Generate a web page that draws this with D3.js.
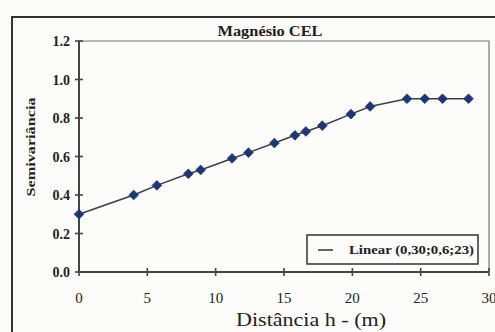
<!DOCTYPE html>
<html>
<head>
<meta charset="utf-8">
<script src="https://cdn.jsdelivr.net/npm/d3@7"></script>
<style>
  html, body { margin: 0; padding: 0; background: #fcfcfa; }
  svg { display: block; }
  text { font-family: "Liberation Serif", "DejaVu Serif", serif; fill: #222; }
</style>
</head>
<body>
<svg id="chart" width="495" height="332"></svg>
<script>
// Experimental semivariogram of magnesium (CEL)
const distance = [0, 4.0, 5.7, 8.0, 8.9, 11.2, 12.4, 14.3, 15.8, 16.6, 17.8, 19.9, 21.3, 24.0, 25.3, 26.6, 28.5];
const semivariance = [0.30, 0.40, 0.45, 0.51, 0.53, 0.59, 0.62, 0.67, 0.71, 0.73, 0.76, 0.82, 0.86, 0.90, 0.90, 0.90, 0.90];
const xTicks = [0, 5, 10, 15, 20, 25, 30];
const yTicks = [0.0, 0.2, 0.4, 0.6, 0.8, 1.0, 1.2];
const title = "Magnésio CEL";
const xTitle = "Distância h - (m)";
const yTitle = "Semivariância";
const legendLabel = "Linear (0,30;0,6;23)";

const svg = d3.select("#chart");
const axisColor = "#444";

const x = d3.scaleLinear().domain([0, 30]).range([79, 489]);
const y = d3.scaleLinear().domain([0, 1.2]).range([272, 41]);

// outer frame
svg.append("path")
  .attr("d", "M12,340 V17 H500")
  .attr("fill", "none").attr("stroke", "#333").attr("stroke-width", 2);

// plot box (top and right edges)
svg.append("path")
  .attr("d", `M${x(0)},${y(1.2)} H${x(30)} V${y(0)}`)
  .attr("fill", "none").attr("stroke", "#777").attr("stroke-width", 1.2);

// x axis
const xAxis = svg.append("g").attr("transform", `translate(0,${y(0)})`);
xAxis.append("line").attr("x1", x(0)).attr("x2", x(30))
  .attr("stroke", axisColor).attr("stroke-width", 2);
xAxis.selectAll("line.tick").data(xTicks).join("line").attr("class", "tick")
  .attr("x1", d => x(d)).attr("x2", d => x(d)).attr("y1", -4).attr("y2", 4)
  .attr("stroke", axisColor).attr("stroke-width", 1.6);
xAxis.selectAll("text").data(xTicks).join("text")
  .attr("x", d => x(d)).attr("y", 31)
  .attr("text-anchor", "middle").attr("font-size", 15)
  .text(d => d);

// y axis
const yAxis = svg.append("g").attr("transform", `translate(${x(0)},0)`);
yAxis.append("line").attr("y1", y(0)).attr("y2", y(1.2))
  .attr("stroke", axisColor).attr("stroke-width", 2);
yAxis.selectAll("line.tick").data(yTicks).join("line").attr("class", "tick")
  .attr("y1", d => y(d)).attr("y2", d => y(d)).attr("x1", -4).attr("x2", 4)
  .attr("stroke", axisColor).attr("stroke-width", 1.6);
yAxis.selectAll("text").data(yTicks).join("text")
  .attr("x", -9).attr("y", d => y(d) + 5)
  .attr("text-anchor", "end").attr("font-size", 14).attr("font-weight", "bold")
  .text(d => d.toFixed(1));

// titles
svg.append("text").attr("x", 270).attr("y", 36)
  .attr("text-anchor", "middle").attr("font-size", 14).attr("font-weight", "bold")
  .attr("textLength", 105).attr("lengthAdjust", "spacingAndGlyphs")
  .text(title);
svg.append("text").attr("x", 311).attr("y", 326)
  .attr("text-anchor", "middle").attr("font-size", 18)
  .attr("textLength", 150).attr("lengthAdjust", "spacingAndGlyphs")
  .text(xTitle);
svg.append("text")
  .attr("transform", "translate(35,147) rotate(-90)")
  .attr("text-anchor", "middle").attr("font-size", 13).attr("font-weight", "bold")
  .attr("textLength", 99).attr("lengthAdjust", "spacingAndGlyphs")
  .text(yTitle);

// semivariogram line and markers
const pts = distance.map((d, i) => [d, semivariance[i]]);
svg.append("path")
  .attr("d", d3.line().x(d => x(d[0])).y(d => y(d[1]))(pts))
  .attr("fill", "none").attr("stroke", "#3a3f48").attr("stroke-width", 1.5);
svg.selectAll("path.mk").data(pts).join("path").attr("class", "mk")
  .attr("transform", d => `translate(${x(d[0])},${y(d[1])})`)
  .attr("d", d3.symbol(d3.symbolDiamond2, 60)())
  .attr("fill", "#1c3778").attr("stroke", "#1c3778").attr("stroke-width", 0.8);

// legend
const lg = svg.append("g").attr("transform", "translate(307,235)");
lg.append("rect").attr("width", 171).attr("height", 29)
  .attr("fill", "#fcfcfa").attr("stroke", "#333").attr("stroke-width", 1.5);
lg.append("line").attr("x1", 11).attr("x2", 26).attr("y1", 15).attr("y2", 15)
  .attr("stroke", "#333").attr("stroke-width", 1.5);
lg.append("text").attr("x", 42).attr("y", 19).attr("font-size", 12)
  .attr("font-weight", "bold").attr("textLength", 125).attr("lengthAdjust", "spacingAndGlyphs")
  .text(legendLabel);
</script>
</body>
</html>
